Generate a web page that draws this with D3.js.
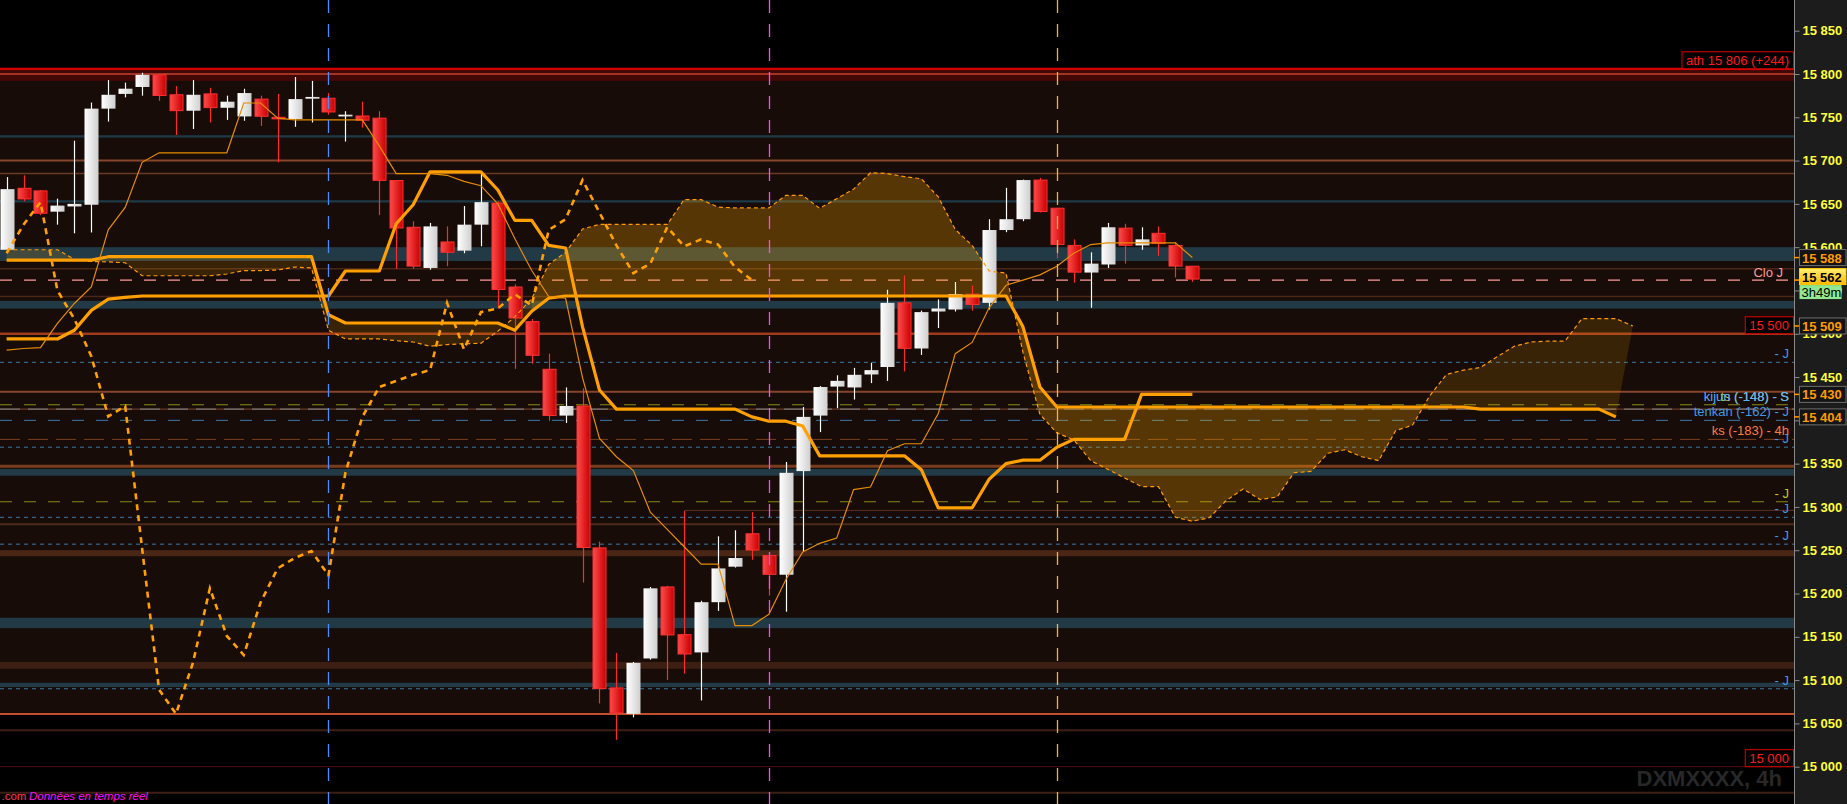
<!DOCTYPE html>
<html><head><meta charset="utf-8">
<script src="https://cdn.jsdelivr.net/npm/d3@7"></script>
<style>html,body{margin:0;padding:0;background:#000;overflow:hidden}svg{display:block}</style>
</head><body>
<svg id="c" width="1847" height="804"></svg>
<script>
// ---------- DATA ----------
const opens  = [15597,15668,15665,15641,15647,15649,15760,15777,15785,15799,15776,15757.6,15777,15761,15751,15771,15750,15748,15771.5,15772,15751,15751.5,15749,15677,15623,15576,15606,15596,15626,15651,15554,15514,15459,15405.5,15416.6,15252.7,15091,15061,15125,15207.6,15152.5,15132,15190,15231,15269,15244,15221.7,15341.4,15405.5,15439,15438,15453,15461.6,15535.7,15483,15525.7,15528,15545.7,15535.7,15619.8,15632.3,15677.5,15645,15602,15570.7,15580,15622,15602,15616,15602,15578];
const highs  = [15681,15683,15666,15656,15723,15767,15793,15790,15801.5,15800,15786,15793,15784,15775,15783,15775,15777,15796.5,15792,15778,15757,15768,15757,15677,15630,15628,15624,15647.5,15685,15653,15557,15517,15477,15438,15437,15260,15131.5,15121,15207.6,15209,15295.3,15191.6,15266,15273,15294,15245,15352,15415.4,15439.6,15452,15460.6,15466.6,15550.8,15567.3,15526.7,15539.7,15559.8,15555.7,15632.3,15668.5,15678,15680,15645,15609,15594,15628,15627,15623,15624,15606,15578];
const lows   = [15594,15653,15637,15626,15616,15617,15745,15773,15775,15769,15729.5,15736.5,15744,15747,15746,15740,15698,15739,15744,15753,15722,15738,15637,15575,15575,15574,15578,15593,15601,15529,15459.5,15465.5,15399.5,15397,15212.6,15073,15031,15057,15123.6,15100,15107.5,15076.5,15180,15230,15239,15197.6,15179,15249,15386.4,15414,15424,15443,15445.6,15456.5,15475.6,15506.6,15525.7,15526.7,15528,15617.3,15630,15640,15587,15559,15530,15576,15581,15597,15590,15565,15560];
const closes = [15667,15654.5,15638,15648,15650,15760,15776,15783,15799,15774,15756.5,15776,15760,15768,15778,15750,15747,15771,15773.5,15755,15753,15745.5,15676,15621,15577,15624,15593,15626,15652,15550,15517,15474,15404.4,15416.6,15252,15089,15061,15120,15206,15151,15129,15190,15229,15241,15249,15221,15339.4,15404,15438.5,15445.6,15452.6,15458,15535.7,15482,15525,15529.2,15545.7,15532.7,15619.8,15632.3,15677.5,15640,15602,15570,15581,15623,15601,15609,15603,15577,15562];

const tenkan = [15481,15483,15484,15512,15535,15554,15620,15646,15698,15709,15709,15709,15709,15709,15766.5,15766.5,15749,15747,15747,15747,15747,15747,15717,15685,15685,15685,15683,15676,15671,15650,15610,15573,15543,15541,15449,15379,15358,15342,15294,15274,15254,15234,15234,15163,15163,15176,15216,15248,15258,15264,15320,15323,15365,15373,15373,15408,15477,15490,15530,15556,15562,15568,15578,15593,15603,15605,15605,15605,15605,15605,15588];
const kijun  = [15494,15494,15494,15494,15504,15527,15540,15542,15543.6,15543.6,15543.6,15543.6,15543.6,15543.6,15543.6,15543.6,15543.6,15543.6,15543.6,15543.6,15572.5,15572.5,15572.5,15627,15649,15687,15687,15687,15687,15666,15631,15631,15602,15599,15508,15435,15413,15413,15413,15413,15413,15413,15413,15413,15404,15399,15399,15393.5,15359,15359,15359,15359,15359,15359,15343,15299,15299,15299,15332,15350,15354,15354,15369,15378,15378,15378,15378,15430,15430,15430,15430];
const spanA  = [15597,15597,15597,15597,15586,15583.5,15583,15582,15567,15567,15567,15567,15567,15569,15573,15573,15573.6,15577,15576,15504,15494,15494,15494,15492,15490.5,15485.6,15487.5,15488.5,15489,15503,15519.5,15540.5,15580,15594,15621,15626.3,15626.3,15626.3,15626.3,15626.3,15655,15655,15646.3,15645.3,15645.3,15645.3,15659.8,15659.8,15644.8,15656,15667,15686,15685,15681.5,15679,15658,15620.5,15602,15572.5,15570,15478.5,15407,15385.5,15377.5,15353.5,15343.5,15333.5,15323.5,15323.5,15288,15283.5,15287.5,15307.5,15320.8,15308.5,15311.5,15339.5,15341,15362,15366,15358,15353.5,15388,15394.5,15428,15453,15458,15461,15473.5,15485.5,15490.5,15491.5,15491.5,15517.5,15517.5,15517.5,15509];
const spanB  = [15585,15585,15585,15585,15585,15585,15589,15589,15589,15589,15589,15589,15589,15589,15589,15589,15589,15589,15589,15522,15512.4,15512.4,15512.4,15512.4,15512.4,15512.4,15512.4,15512.4,15512.4,15512.4,15504,15526,15541,15543.6,15543.6,15543.6,15543.6,15543.6,15543.6,15543.6,15543.6,15543.6,15543.6,15543.6,15543.6,15543.6,15543.6,15543.6,15543.6,15543.6,15543.6,15543.6,15543.6,15543.6,15543.6,15543.6,15543.6,15543.6,15543.6,15543.6,15508,15438.5,15415.4,15415.4,15415.4,15415.4,15415.4,15415.4,15415.4,15415.4,15415.4,15415.4,15415.4,15415.4,15415.4,15415.4,15415.4,15415.4,15415.4,15415.4,15415.4,15415.4,15415.4,15415.4,15415.4,15415.4,15415.4,15413,15413,15413,15413,15413,15413,15413,15413,15404];
const chikouShift = 26;
const cloudOverlap = [31, 83.8];        // index range where two kumo fills overlap
const sessionMarks = [19, 45, 62];      // blue, magenta, orange vertical markers

const yTicks = [15000,15050,15100,15150,15200,15250,15300,15350,15400,15450,15500,15550,15600,15650,15700,15750,15800,15850];

const athLevel = 15806, athBandLow = 15792, level15800 = 15800, zoneBottom = 15061, level15000 = 15000;
const tealLineLevels = [15728, 15653];
const tealBandLevels = [[15600,15584],[15538,15529],[15344,15336],[15172,15160],[15097,15092]];
const brownStrongLevels = [15500];
const brownMidLevels = [15700, 15433];
const brownThickLevels = [15347];
const brownSoftLevels = [15685, 15280];
const brownFaintLevels = [15575, 15543];
const brownDarkLevels = [15042, 14970];
const brownBandLevels = [[15250,15243],[15121,15113]];
const partialLevel = {value:15296, from:40};
const blueShortDashLevels = [15467, 15369, 15288, 15257, 15090];
const blueLongDashLevels = [15400];
const oliveDashLevels = [15418, 15306];
const brownDashLevels = [15378];
const grayLevels = [15413];

const blueTags = [["- J",15467],["tenkan (-162) - J",15400],["- J",15369],["- J",15288],["- J",15257],["- J",15090]];
const yellowTags = [["ts (-148) - S",15418],["- J",15306]];
const kijunTag = ["kijun (-148) - S",15418];
const ksTag = ["ks (-183) - 4h",15378];
const redBoxTags = [["ath 15 806 (+244)",15806],["15 500",15500],["15 000",15000]];
const closeTag = "Clo J";
const timeLeft = "3h49m";
const symbolText = "DXMXXXX, 4h";
const footerA = ".com", footerB = "Données en temps réel";

// ---------- CHART ----------
const W = 1847, H = 804, PR = 1794;
const svg = d3.select('#c');
const xs = d3.scaleLinear().domain([0, 96]).range([6.6, 1632.8]);
const ys = d3.scaleLinear().domain([15000, 15850]).range([766.7, 30.7]);
const fmt = v => Math.round(v).toString().replace(/\B(?=(\d{3})+(?!\d))/g, ' ');
const FONT = "'Liberation Sans', Arial, Helvetica, sans-serif";

const defs = svg.append('defs');
const gr = defs.append('linearGradient').attr('id','gRed').attr('x1',0).attr('x2',1).attr('y1',0).attr('y2',0);
gr.append('stop').attr('offset',0).attr('stop-color','#ff4a4a');
gr.append('stop').attr('offset',1).attr('stop-color','#c80000');
const gw = defs.append('linearGradient').attr('id','gWhite').attr('x1',0).attr('x2',1).attr('y1',0).attr('y2',0);
gw.append('stop').attr('offset',0).attr('stop-color','#ffffff');
gw.append('stop').attr('offset',1).attr('stop-color','#cfcfcf');
const gy = defs.append('linearGradient').attr('id','gYel').attr('x1',0).attr('x2',0).attr('y1',0).attr('y2',1);
gy.append('stop').attr('offset',0).attr('stop-color','#fff070');
gy.append('stop').attr('offset',1).attr('stop-color','#ffb800');
defs.append('clipPath').attr('id','plotClip').append('rect').attr('x',0).attr('y',0).attr('width',PR).attr('height',H);
defs.append('clipPath').attr('id','overlapClip').append('rect')
  .attr('x', xs(cloudOverlap[0])).attr('y', 0).attr('width', xs(cloudOverlap[1]) - xs(cloudOverlap[0])).attr('height', H);

svg.append('rect').attr('width',W).attr('height',H).attr('fill','#000');
const plot = svg.append('g').attr('clip-path','url(#plotClip)');

// background zone
plot.append('rect').attr('x',0).attr('width',PR).attr('y',ys(athLevel)).attr('height',ys(zoneBottom)-ys(athLevel)).attr('fill','#170c08');
plot.append('rect').attr('x',0).attr('width',PR).attr('y',ys(athLevel)).attr('height',ys(athBandLow)-ys(athLevel)).attr('fill','#420806');

function hline(g, v, color, w, dash) {
  const yy = ys(v);
  const l = g.append('line').attr('x1',0).attr('x2',PR).attr('y1',yy).attr('y2',yy).attr('stroke',color).attr('stroke-width',w);
  if (dash) l.attr('stroke-dasharray', dash);
  return l;
}
function band(g, pair, color) {
  g.append('rect').attr('x',0).attr('width',PR).attr('y',ys(pair[0])).attr('height',ys(pair[1])-ys(pair[0])).attr('fill',color);
}
const lv = plot.append('g');
tealBandLevels.forEach(p => band(lv, p, '#223a46'));
brownBandLevels.forEach((p,i) => band(lv, p, i===0 ? '#4a2616' : '#3c1e12'));
tealLineLevels.forEach(v => hline(lv, v, '#1f3a47', 2.2));
brownStrongLevels.forEach(v => hline(lv, v, '#a03a1c', 2.5));
brownMidLevels.forEach(v => hline(lv, v, '#86452a', 2));
brownThickLevels.forEach(v => hline(lv, v, '#7a3c1e', 3));
brownSoftLevels.forEach((v,i) => hline(lv, v, i===0 ? '#6a3a22' : '#4e2a18', i===0 ? 1.5 : 2));
brownFaintLevels.forEach(v => hline(lv, v, '#4a2616', 1.5));
brownDarkLevels.forEach(v => hline(lv, v, '#3c2014', 2));
lv.append('line').attr('x1',xs(partialLevel.from)).attr('x2',PR).attr('y1',ys(partialLevel.value)).attr('y2',ys(partialLevel.value)).attr('stroke','#5a3020').attr('stroke-width',1);
grayLevels.forEach(v => { hline(lv, v, '#6a3a22', 1.2); hline(lv, v, '#777777', 1.2, '20,8'); });
blueShortDashLevels.forEach(v => hline(lv, v, '#3a7aa8', 1, '4,4'));
blueLongDashLevels.forEach(v => hline(lv, v, '#3a7aa8', 1, '12,12'));
oliveDashLevels.forEach(v => hline(lv, v, '#8a8a10', 1, '12,12'));
brownDashLevels.forEach(v => hline(lv, v, '#7a4020', 1, '20,8'));
hline(lv, closes[closes.length-1], '#ff9a9a', 1.2, '12,12');
hline(lv, zoneBottom, '#ff6a3a', 1.5);
hline(lv, level15000, '#560a08', 1);
hline(lv, athLevel, '#d40000', 2.2);
hline(lv, level15800, '#ff6040', 1.2);

// kumo (area between span A and span B)
const kumoTop = spanB.map((v, i) => [xs(i), ys(v)]);
const kumoBot = spanA.map((v, i) => [xs(i), ys(v)]).reverse();
const kumoD = 'M' + kumoTop.concat(kumoBot).map(p => p[0].toFixed(2) + ',' + p[1].toFixed(2)).join('L') + 'Z';
plot.append('path').attr('d', kumoD).attr('fill','#ffa500').attr('fill-opacity',0.15);
plot.append('path').attr('d', kumoD).attr('fill','#ffa500').attr('fill-opacity',0.15).attr('clip-path','url(#overlapClip)');

// candles
const cg = plot.append('g');
closes.forEach((c, i) => {
  const o = opens[i], up = c >= o;
  const cx = Math.round(xs(i)) + 0.5;
  cg.append('line').attr('x1',cx).attr('x2',cx).attr('y1',ys(highs[i])).attr('y2',ys(lows[i]))
    .attr('stroke', up ? '#ffffff' : '#ff2a2a').attr('stroke-width',1.2);
  const top = ys(Math.max(o,c)), bot = ys(Math.min(o,c));
  const h = Math.max(bot - top, 1.5);
  if (up) {
    cg.append('rect').attr('x',cx-7).attr('width',14).attr('y',top).attr('height',h).attr('fill','url(#gWhite)');
  } else {
    cg.append('rect').attr('x',cx-6.5).attr('width',13).attr('y',top).attr('height',Math.max(h-1,0.5))
      .attr('fill','url(#gRed)').attr('stroke','#ff3030').attr('stroke-width',1);
  }
});

// ichimoku lines
const line = arr => d3.line().x((d,i) => xs(i)).y(d => ys(d))(arr);
plot.append('path').attr('d', line(spanA)).attr('fill','none').attr('stroke','#ff9a00').attr('stroke-width',1.2).attr('stroke-dasharray','4,3');
plot.append('path').attr('d', line(spanB)).attr('fill','none').attr('stroke','#ffa000').attr('stroke-width',3.2).attr('stroke-linejoin','round');
plot.append('path').attr('d', line(kijun)).attr('fill','none').attr('stroke','#ffa000').attr('stroke-width',3.2).attr('stroke-linejoin','round');
plot.append('path').attr('d', line(tenkan)).attr('fill','none').attr('stroke','#e68c00').attr('stroke-width',1.2);
const chikou = closes.slice(chikouShift);
plot.append('path').attr('d', line(chikou)).attr('fill','none').attr('stroke','#ffa000').attr('stroke-width',2.6).attr('stroke-dasharray','6,5');

// session markers
const markColors = ['#4a8cff','#ff44ff','#ffb030'];
sessionMarks.forEach((m, k) => {
  const xx = Math.round(xs(m)) + 0.5;
  plot.append('line').attr('x1',xx).attr('x2',xx).attr('y1',0).attr('y2',H).attr('stroke',markColors[k]).attr('stroke-width',1.3).attr('stroke-dasharray','13,11');
});

// symbol watermark + footer
plot.append('text').attr('x',1782).attr('y',786).attr('text-anchor','end').attr('font-family',FONT).attr('font-weight','bold')
  .attr('font-size',22).attr('fill','#282828').text(symbolText);
svg.append('text').attr('x',1.5).attr('y',800).attr('font-family',FONT).attr('font-size',11.5).attr('fill','#ff3a5a').text(footerA);
svg.append('text').attr('x',29).attr('y',800).attr('font-family',FONT).attr('font-size',11.5).attr('font-style','italic').attr('fill','#ff10ff').text(footerB);

// right-side tags
const tg = plot.append('g').attr('font-family',FONT).attr('font-size',13);
redBoxTags.forEach(([t, v]) => {
  const yy = ys(v);
  const txt = tg.append('text').attr('x',1789).attr('y',yy-4).attr('text-anchor','end').attr('fill','#ff1a1a').text(t);
  const bb = txt.node().getBBox();
  tg.insert('rect','text').attr('x',bb.x-4).attr('y',yy-17).attr('width',PR-(bb.x-4)-0.5).attr('height',17)
    .attr('fill','#000').attr('stroke','#e00000').attr('stroke-width',1);
});
tg.append('text').attr('x',1783).attr('y',ys(closes[closes.length-1])-3.5).attr('text-anchor','end').attr('fill','#ff9a9a').text(closeTag);
yellowTags.forEach(([t,v]) => tg.append('text').attr('x',1789).attr('y',ys(v)-4).attr('text-anchor','end').attr('fill','#c8c81e').text(t));
blueTags.forEach(([t,v]) => tg.append('text').attr('x',1789).attr('y',ys(v)-4).attr('text-anchor','end').attr('fill','#3f9ae6').text(t));
tg.append('text').attr('x',1789).attr('y',ys(kijunTag[1])-4).attr('text-anchor','end').attr('fill','#56b0ff').text(kijunTag[0]);
tg.append('text').attr('x',1789).attr('y',ys(ksTag[1])-4).attr('text-anchor','end').attr('fill','#ff7a40').text(ksTag[0]);

// ---------- AXIS ----------
svg.append('rect').attr('x',PR).attr('y',0).attr('width',W-PR).attr('height',H).attr('fill','#1c1c1c');
const axis = d3.axisRight(ys).tickValues(yTicks).tickSize(5).tickPadding(3).tickFormat(fmt);
const ag = svg.append('g').attr('transform',`translate(${PR+0.5},0)`).call(axis);
ag.select('.domain').attr('stroke','#8a8a8a').attr('d',`M0,0V${H}`);
ag.selectAll('.tick line').attr('stroke','#8a8a8a');
ag.selectAll('.tick text').attr('fill','#ffff3a').attr('font-family',FONT).attr('font-size',13).attr('font-weight','bold');

function axisBox(v, textColor, fill, stroke, dy) {
  const yy = ys(v) + (dy || 0);
  svg.append('line').attr('x1',PR).attr('x2',PR+5).attr('y1',ys(v)).attr('y2',ys(v)).attr('stroke','#ff9a00').attr('stroke-width',1.5);
  svg.append('rect').attr('x',PR+5.5).attr('y',yy-8).attr('width',46.5).attr('height',16).attr('fill',fill).attr('stroke',stroke).attr('stroke-width',1);
  svg.append('text').attr('x',PR+8).attr('y',yy+5).attr('font-family',FONT).attr('font-size',13).attr('font-weight','bold').attr('fill',textColor).text(fmt(v));
}
axisBox(tenkan[tenkan.length-1], '#ff9a00', '#141414', '#6e6e6e');
axisBox(spanA[spanA.length-1], '#ff9a00', '#141414', '#6e6e6e');
axisBox(kijun[kijun.length-1], '#ff9a00', '#141414', '#6e6e6e');
axisBox(spanB[spanB.length-1], '#ff9a00', '#141414', '#6e6e6e');
axisBox(closes[closes.length-1], '#000000', 'url(#gYel)', '#ffcc00', -3.5);
const ty = ys(closes[closes.length-1]) + 5;
svg.append('rect').attr('x',PR+5.5).attr('y',ty).attr('width',42).attr('height',14).attr('fill','#90e890');
svg.append('text').attr('x',PR+7.5).attr('y',ty+11.5).attr('font-family',FONT).attr('font-size',13).attr('fill','#000').text(timeLeft);
</script>
</body></html>
